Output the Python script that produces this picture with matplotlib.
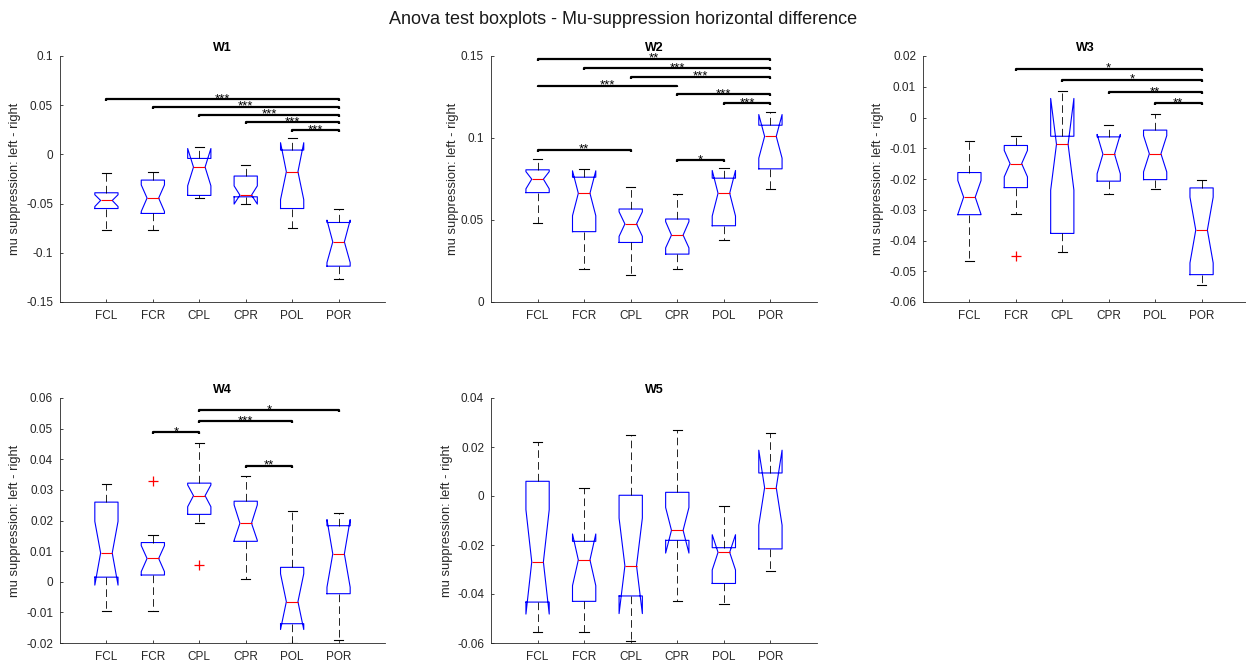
import matplotlib
matplotlib.use("Agg")
import matplotlib.pyplot as plt

plt.rcParams['font.family'] = ['Liberation Sans', 'DejaVu Sans']
plt.rcParams['axes.unicode_minus'] = False
plt.rcParams['lines.scale_dashes'] = False

groups = ["FCL", "FCR", "CPL", "CPR", "POL", "POR"]
panel_titles = ["W1", "W2", "W3", "W4", "W5"]

# Box statistics, one row per window (W1..W5), one column per group
q1 = [
    [-0.0550, -0.0600, -0.0417, -0.0431, -0.0550, -0.1136],
    [0.0667, 0.0429, 0.0363, 0.0292, 0.0465, 0.0812],
    [-0.0316, -0.0228, -0.0377, -0.0207, -0.0202, -0.0511],
    [0.0015, 0.0022, 0.0220, 0.0132, -0.0137, -0.0039],
    [-0.0433, -0.0430, -0.0408, -0.0181, -0.0357, -0.0216],
]
median = [
    [-0.0468, -0.0444, -0.0129, -0.0414, -0.0176, -0.0889],
    [0.0749, 0.0663, 0.0476, 0.0408, 0.0663, 0.1010],
    [-0.0259, -0.0150, -0.0087, -0.0119, -0.0118, -0.0366],
    [0.0094, 0.0076, 0.0281, 0.0191, -0.0065, 0.0091],
    [-0.0269, -0.0261, -0.0285, -0.0140, -0.0230, 0.0034],
]
q3 = [
    [-0.0390, -0.0261, -0.0041, -0.0220, 0.0044, -0.0692],
    [0.0806, 0.0761, 0.0567, 0.0506, 0.0755, 0.1078],
    [-0.0179, -0.0091, -0.0061, -0.0063, -0.0041, -0.0229],
    [0.0260, 0.0128, 0.0322, 0.0263, 0.0047, 0.0183],
    [0.0060, -0.0185, 0.0003, 0.0015, -0.0211, 0.0094],
]
whisker_low = [
    [-0.0770, -0.0770, -0.0448, -0.0508, -0.0746, -0.1269],
    [0.0484, 0.0202, 0.0163, 0.0204, 0.0378, 0.0690],
    [-0.0468, -0.0315, -0.0436, -0.0249, -0.0231, -0.0544],
    [-0.0094, -0.0094, 0.0191, 0.0009, -0.0200, -0.0191],
    [-0.0556, -0.0556, -0.0593, -0.0430, -0.0441, -0.0305],
]
whisker_high = [
    [-0.0193, -0.0176, 0.0078, -0.0109, 0.0170, -0.0550],
    [0.0871, 0.0810, 0.0704, 0.0659, 0.0816, 0.1159],
    [-0.0076, -0.0061, 0.0087, -0.0023, 0.0013, -0.0202],
    [0.0318, 0.0152, 0.0452, 0.0345, 0.0230, 0.0223],
    [0.0219, 0.0034, 0.0249, 0.0268, -0.0041, 0.0256],
]
notch_low = [
    [-0.0530, -0.0580, -0.0319, -0.0505, -0.0460, -0.1100],
    [0.0690, 0.0526, 0.0400, 0.0330, 0.0524, 0.0877],
    [-0.0315, -0.0193, -0.0236, -0.0183, -0.0177, -0.0473],
    [-0.0011, 0.0033, 0.0245, 0.0135, -0.0156, -0.0018],
    [-0.0482, -0.0366, -0.0480, -0.0233, -0.0302, -0.0119],
]
notch_high = [
    [-0.0410, -0.0310, 0.0060, -0.0320, 0.0119, -0.0668],
    [0.0795, 0.0800, 0.0550, 0.0490, 0.0802, 0.1143],
    [-0.0205, -0.0107, 0.0062, -0.0055, -0.0059, -0.0259],
    [0.0197, 0.0118, 0.0316, 0.0251, 0.0026, 0.0203],
    [-0.0056, -0.0155, -0.0090, -0.0047, -0.0158, 0.0187],
]
# (window index, group index) -> outlier values
outliers = {
    (2, 1): [-0.0449],
    (3, 1): [0.0329],
    (3, 2): [0.0054],
}
# Pairwise significance: (group a, group b, stars, bar height)
comparisons = [
    [(0, 5, "***", 0.0560), (1, 5, "***", 0.0485), (2, 5, "***", 0.0404),
     (3, 5, "***", 0.0326), (4, 5, "***", 0.0244)],
    [(0, 5, "**", 0.1484), (1, 5, "***", 0.1427), (2, 5, "***", 0.1373),
     (0, 3, "***", 0.1320), (3, 5, "***", 0.1267), (4, 5, "***", 0.1214),
     (0, 2, "**", 0.0929), (3, 4, "*", 0.0863)],
    [(1, 5, "*", 0.0159), (2, 5, "*", 0.0123), (3, 5, "**", 0.0082),
     (4, 5, "**", 0.0046)],
    [(2, 5, "*", 0.0560), (2, 4, "***", 0.0524), (1, 2, "*", 0.0488),
     (3, 4, "**", 0.0379)],
    [],
]
y_limits = [(-0.15, 0.1), (0.0, 0.15), (-0.06, 0.02), (-0.02, 0.06), (-0.06, 0.04)]
y_ticks = [
    [-0.15, -0.1, -0.05, 0, 0.05, 0.1],
    [0, 0.05, 0.1, 0.15],
    [-0.06, -0.05, -0.04, -0.03, -0.02, -0.01, 0, 0.01, 0.02],
    [-0.02, -0.01, 0, 0.01, 0.02, 0.03, 0.04, 0.05, 0.06],
    [-0.06, -0.04, -0.02, 0, 0.02, 0.04],
]

W, H = 1246, 666
fig = plt.figure(figsize=(W / 100, H / 100), dpi=100)
fig.suptitle("Anova test boxplots - Mu-suppression horizontal difference",
             x=0.5, y=1 - 20 / H, va='center', fontsize=13, color='#1a1a1a')

# axes rectangles in pixels: left, top, width, height
rects = [(60, 56, 325, 246), (491, 56, 326, 246), (923, 56, 325, 246),
         (60, 398, 325, 245), (491, 398, 326, 245)]
label_x = [-0.138, -0.117, -0.1375, -0.138, -0.135]
axis_col = '#262626'

for p in range(5):
    l, t, w, h = rects[p]
    ax = fig.add_axes([l / W, 1 - (t + h) / H, w / W, h / H])
    stats = []
    for k in range(6):
        stats.append(dict(med=median[p][k], q1=q1[p][k], q3=q3[p][k],
                          whislo=whisker_low[p][k], whishi=whisker_high[p][k],
                          cilo=notch_low[p][k], cihi=notch_high[p][k],
                          fliers=outliers.get((p, k), []), label=groups[k]))
    ax.bxp(stats, positions=range(1, 7), widths=0.5, capwidths=0.2,
           shownotches=True, manage_ticks=False,
           boxprops=dict(color='blue', lw=0.8),
           medianprops=dict(color='red', lw=0.8),
           whiskerprops=dict(color='black', lw=0.6, linestyle=(0, (5.5, 3))),
           capprops=dict(color='black', lw=0.8),
           flierprops=dict(marker='+', markeredgecolor='red', markersize=7,
                           markeredgewidth=0.9, linestyle='none'))

    lo, hi = y_limits[p]
    tick_h = 0.008 * (hi - lo)
    for a, b, stars, y in comparisons[p]:
        x1, x2 = a + 1, b + 1
        ax.plot([x1, x1, x2, x2], [y - tick_h, y, y, y - tick_h],
                color='black', lw=1.6, solid_capstyle='butt')
        ax.annotate(stars, ((x1 + x2) / 2, y), xytext=(0, -2.2),
                    textcoords='offset points', ha='center', va='baseline',
                    fontsize=9.5, color='black')

    ax.set_xlim(0, 7)
    ax.set_ylim(lo, hi)
    ax.set_xticks(range(1, 7))
    ax.set_xticklabels(groups)
    ax.set_yticks(y_ticks[p])
    ax.set_yticklabels([f"{v:g}" for v in y_ticks[p]])
    for side in ('top', 'right'):
        ax.spines[side].set_visible(False)
    for side in ('left', 'bottom'):
        ax.spines[side].set_color(axis_col)
        ax.spines[side].set_linewidth(0.6)
    ax.tick_params(direction='in', length=2.4, width=0.6, colors=axis_col,
                   labelsize=8.5, pad=5)
    ax.tick_params(axis='x', pad=5.5)
    ax.set_title(panel_titles[p], fontsize=9, fontweight='bold', pad=3.5,
                 color='black')
    ax.set_ylabel("mu suppression: left - right", fontsize=9.3, color=axis_col)
    ax.yaxis.label.set_va('center')
    ax.yaxis.set_label_coords(label_x[p], 0.5)

fig.savefig("out.png", dpi=100)
